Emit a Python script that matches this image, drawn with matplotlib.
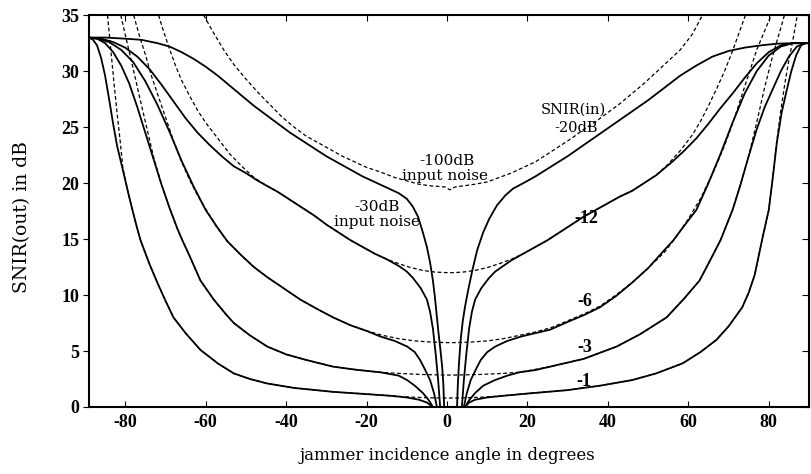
import numpy as np
import matplotlib
matplotlib.use("Agg")
import matplotlib.pyplot as plt

# values
# dashed: -100dB input noise, SNIR(in) = -20, -12, -6, -3, -1 dB
d20_x = [-60.5, -58, -55.5, -53, -50, -47, -44, -41, -38, -35, -32, -29, -26, -23, -20, -16.6, -13, -10, -7, -4, -2, -0.5, 0.7,
         2, 4, 7, 10, 13, 16, 19, 22, 25, 28, 31, 34, 37, 40, 43, 46, 49, 52, 55, 58, 61, 63.5]
d20_y = [35, 33.4, 31.9, 30.6, 29.3, 28.1, 27.0, 25.9, 25.0, 24.2, 23.6, 23.0, 22.4, 21.9, 21.4, 21.0, 20.5, 20.2, 19.9, 19.75, 19.7, 19.65, 19.4,
         19.65, 19.75, 19.9, 20.1, 20.5, 20.9, 21.4, 21.9, 22.6, 23.3, 24.0, 24.8, 25.5, 26.3, 27.1, 28.0, 28.9, 29.9, 30.9, 31.9, 33.3, 35]

d12_x = [-71.7, -70.5, -69, -67.5, -66, -64, -62, -60, -57, -54, -51, -48, -45, -42, -39, -36, -33, -30, -27, -24, -21, -18, -15, -12, -9, -6, -3, 0,
         1.5, 4, 7, 10, 13, 16, 19, 22, 25, 28, 31, 34, 37, 40, 43, 46, 49, 52, 55, 58, 61, 63, 65, 67, 69, 71, 72.5, 74.2]
d12_y = [35, 33.6, 32.0, 30.5, 29.2, 27.8, 26.5, 25.4, 24.0, 22.6, 21.5, 20.5, 19.8, 19.2, 18.5, 17.8, 17.1, 16.3, 15.6, 14.9, 14.3, 13.7, 13.2, 12.8, 12.45, 12.2, 12.05, 12.0,
         12.0, 12.05, 12.2, 12.45, 12.8, 13.2, 13.7, 14.3, 14.9, 15.6, 16.3, 17.0, 17.6, 18.2, 18.8, 19.3, 20.0, 20.7, 21.7, 22.9, 24.3, 25.5, 26.9, 28.4, 30.0, 31.8, 33.3, 35]

d6_x = [-77.9, -76.5, -75, -73.5, -72, -70, -68, -66, -64, -62, -60, -57.5, -54.6, -51, -48, -44.7, -41, -36.5, -32, -28.3, -24, -20, -16, -12, -8, -4, 0,
        2, 6, 10, 14, 18, 22, 26, 30, 34, 38, 42, 46, 50, 54, 57, 60, 63, 66, 68.5, 71, 74, 77, 80.6]
d6_y = [35, 33.2, 31.5, 29.6, 28.0, 25.9, 23.8, 21.9, 20.3, 18.9, 17.7, 16.2, 14.8, 13.5, 12.5, 11.6, 10.7, 9.6, 8.7, 8.0, 7.3, 6.8, 6.4, 6.1, 5.9, 5.8, 5.75,
        5.75, 5.8, 5.9, 6.1, 6.4, 6.7, 7.1, 7.7, 8.3, 9.0, 10.0, 11.1, 12.4, 13.8, 15.2, 16.8, 18.6, 20.8, 22.9, 25.3, 28.6, 31.9, 35]

d3_x = [-81.1, -79.5, -78, -76.5, -75, -73, -71, -69, -67, -65.8, -64, -61.3, -58, -55, -53, -49, -44.7, -40, -35, -28.3, -22, -16.6, -12, -6, 0,
        2, 8, 14, 18, 25.6, 34, 42.2, 48, 54.6, 59, 62.8, 66, 68, 71, 73, 75, 77, 79, 81, 83.9]
d3_y = [35, 32.5, 30.2, 27.8, 25.5, 22.4, 19.9, 17.8, 15.9, 14.9, 13.5, 11.3, 9.6, 8.3, 7.5, 6.4, 5.4, 4.7, 4.2, 3.6, 3.3, 3.1, 3.0, 2.9, 2.85,
        2.85, 2.9, 3.0, 3.1, 3.6, 4.3, 5.4, 6.5, 8.0, 9.7, 11.3, 13.5, 14.9, 17.6, 19.9, 22.4, 25.4, 28.6, 31.4, 35]

d1_x = [-84.4, -83.6, -82.8, -82, -81.2, -80.6, -79.3, -78.2, -77.2, -76.2, -74, -72, -70, -68, -65, -61.3, -57, -53, -49, -44.7, -38, -28.3, -20, -14, -10, -5, 0,
        3, 7, 10, 14, 20, 29.8, 38, 46, 52, 58.6, 63, 67, 70, 72, 73.4, 75, 76.5, 77.5, 78.5, 80, 81, 82, 83, 84, 85, 86, 87.1]
d1_y = [35, 32.0, 29.0, 26.2, 23.6, 21.4, 19.2, 17.6, 16.2, 14.9, 12.8, 11.1, 9.5, 8.0, 6.6, 5.1, 3.9, 3.0, 2.5, 2.1, 1.7, 1.35, 1.15, 1.0, 0.9, 0.82, 0.8,
        0.8, 0.85, 0.9, 1.0, 1.2, 1.5, 1.9, 2.4, 3.0, 3.9, 4.9, 6.0, 7.2, 8.2, 8.9, 10.2, 11.8, 13.5, 15.2, 17.6, 20.5, 23.8, 26.5, 28.9, 31.0, 32.8, 35]

# solid: -30dB input noise
s20_x = [-89, -85, -80, -76, -72, -69, -66, -63, -60, -57, -54, -51, -48, -45, -42, -39, -36, -33, -30, -27, -24, -21, -18, -15, -12, -10,
         -8.5, -7.2, -6, -5, -4.2, -3.5, -3, -2.5, -2.1, -1.6, -1.2, -0.9, -0.7,
         2.5, 2.7, 3.0, 3.4, 3.9, 4.5, 5.3, 6.3, 7.5, 9, 10.5, 12.4, 14.5, 16.4, 19, 22, 26, 30, 34, 38, 42, 46, 50, 54, 58, 62, 66, 70, 74, 78, 82, 86, 90]
s20_y = [33, 33, 32.9, 32.8, 32.5, 32.2, 31.7, 31.1, 30.4, 29.6, 28.7, 27.8, 26.9, 26.1, 25.3, 24.5, 23.8, 23.1, 22.4, 21.8, 21.2, 20.6, 20.1, 19.6, 19.1, 18.6,
         17.9, 17.0, 15.6, 14.3, 12.9, 11.3, 9.8, 8.0, 6.6, 5.0, 3.6, 2.0, 0,
         0, 2.0, 4.0, 6.0, 7.6, 9.0, 10.5, 12.2, 14.0, 15.6, 16.8, 18.0, 18.9, 19.5, 20.0, 20.6, 21.5, 22.4, 23.4, 24.4, 25.4, 26.4, 27.4, 28.5, 29.6, 30.5, 31.3, 31.8, 32.1, 32.3, 32.45, 32.5, 32.5]

s12_x = [-89, -86, -83, -80, -77, -74, -71, -68, -65, -62, -59, -56, -53, -50, -47, -45, -42, -39, -36, -33, -30, -27, -24, -21, -18, -15, -12, -10,
         -8.4, -6.5, -5, -4.2, -3.5, -2.8, -2.2, -1.7,
         3.7, 4.2, 4.8, 5.5, 6.2, 7, 8.5, 10.4, 12, 14, 16, 19, 22, 25, 28, 31, 34, 37, 40, 43, 46, 49, 52, 56, 59, 62, 65, 68, 71, 74, 77, 80, 83, 86, 90]
s12_y = [33, 32.9, 32.6, 32.1, 31.3, 30.2, 28.8, 27.3, 25.8, 24.5, 23.4, 22.4, 21.5, 20.9, 20.2, 19.8, 19.2, 18.5, 17.8, 17.1, 16.3, 15.6, 14.9, 14.3, 13.7, 13.2, 12.6, 12.1,
         11.5, 10.6, 9.6, 8.5, 7.0, 4.7, 2.4, 0,
         0, 2.4, 4.7, 7.0, 8.5, 9.6, 10.6, 11.5, 12.1, 12.6, 13.1, 13.7, 14.3, 14.9, 15.6, 16.3, 17.0, 17.6, 18.2, 18.8, 19.3, 20.0, 20.7, 21.9, 22.9, 24.0, 25.3, 26.7, 28.0, 29.4, 30.7, 31.7, 32.3, 32.5, 32.5]

s6_x = [-89, -87, -84, -81, -78, -75, -72, -69, -66, -63, -60, -57, -54.6, -51, -48, -44.7, -41, -36.5, -32, -28.3, -24, -20, -16.6, -13, -9.9,
        -8, -6.7, -5.4, -4.2, -3.2, -2.5,
        4.2, 4.9, 5.9, 7.1, 8.4, 10, 12, 15, 18.5, 22, 25.6, 30, 34, 38, 42, 46, 50, 54, 56.3, 59, 62, 65, 68, 71, 74, 77, 80, 83, 86, 90]
s6_y = [33, 32.9, 32.6, 31.9, 30.8, 29.1, 27.0, 24.6, 22.0, 19.7, 17.6, 16.0, 14.8, 13.5, 12.5, 11.6, 10.7, 9.6, 8.7, 8.0, 7.3, 6.8, 6.3, 5.9, 5.4,
        4.9, 4.2, 3.3, 2.4, 1.2, 0,
        0, 1.2, 2.4, 3.3, 4.2, 4.9, 5.4, 5.9, 6.3, 6.6, 6.9, 7.6, 8.2, 8.9, 9.9, 11.1, 12.4, 14.0, 14.9, 16.2, 17.6, 20.0, 22.6, 25.4, 28.0, 30.0, 31.4, 32.2, 32.5, 32.5]

s3_x = [-89, -87, -85, -83, -81, -79, -77, -75, -73, -71, -69, -67, -65.8, -64, -61.3, -58, -55, -53, -49, -44.7, -40, -35, -28.3, -22, -16.6,
        -12, -9.9, -8, -6, -4.5, -3.5,
        4.5, 5.5, 7, 9, 11.9, 15, 18, 22, 25.6, 34, 42.2, 48, 54.6, 59, 62.8, 66, 68, 71, 73, 75, 77, 79, 81, 83, 85, 87, 89, 90]
s3_y = [33, 32.9, 32.5, 31.7, 30.5, 28.9, 26.8, 24.5, 22.2, 19.9, 17.8, 15.9, 14.9, 13.5, 11.3, 9.6, 8.3, 7.5, 6.4, 5.4, 4.7, 4.2, 3.6, 3.3, 3.1,
        2.8, 2.4, 1.9, 1.25, 0.6, 0,
        0, 0.6, 1.25, 1.9, 2.4, 2.8, 3.1, 3.3, 3.6, 4.3, 5.4, 6.5, 8.0, 9.7, 11.3, 13.5, 14.9, 17.6, 19.9, 22.4, 24.8, 26.8, 28.4, 30.0, 31.3, 32.2, 32.5, 32.5]

s1_x = [-89, -88, -87, -86, -85, -84, -83, -82, -80.6, -79.3, -78.2, -77.2, -76.2, -74, -72, -70, -68, -65, -61.3, -57, -53, -49, -44.7, -38, -28.3, -20, -14,
        -10, -7, -5, -3.5,
        4.5, 5.5, 7, 10, 14, 20, 29.8, 38, 46, 52, 58.6, 63, 67, 70, 72, 73.4, 75, 76.5, 77.5, 78.5, 80, 81, 82, 83.2, 84.4, 85.6, 86.8, 88, 89.2, 90]
s1_y = [33, 32.8, 32.3, 31.2, 29.6, 27.5, 25.3, 23.3, 21.2, 19.2, 17.6, 16.2, 14.9, 12.8, 11.1, 9.5, 8.0, 6.6, 5.1, 3.9, 3.0, 2.5, 2.1, 1.7, 1.35, 1.15, 1.0,
        0.85, 0.65, 0.4, 0,
        0, 0.4, 0.65, 0.85, 1.0, 1.2, 1.5, 1.9, 2.4, 3.0, 3.9, 4.9, 6.0, 7.2, 8.2, 8.9, 10.2, 11.8, 13.5, 15.2, 17.6, 20.5, 23.6, 26.3, 28.2, 30.0, 31.4, 32.3, 32.5, 32.5]

x_ticks = [-80, -60, -40, -20, 0, 20, 40, 60, 80]
y_ticks = [0, 5, 10, 15, 20, 25, 30, 35]

plt.rcParams['font.family'] = ['DejaVu Serif']

fig = plt.figure(figsize=(8.12, 4.74), dpi=100)
ax = fig.add_axes([0.1096, 0.1414, 0.8867, 0.8266])

for xs, ys in [(d20_x, d20_y), (d12_x, d12_y), (d6_x, d6_y), (d3_x, d3_y), (d1_x, d1_y)]:
    ax.plot(xs, ys, color='black', lw=0.9, ls=(0, (3, 2)))
for xs, ys in [(s20_x, s20_y), (s12_x, s12_y), (s6_x, s6_y), (s3_x, s3_y), (s1_x, s1_y)]:
    ax.plot(xs, ys, color='black', lw=1.3)

ax.set_xlim(-89, 90)
ax.set_ylim(0, 35)
ax.set_xticks(x_ticks)
ax.set_yticks(y_ticks)
tick_font = dict(family='Liberation Serif', size=13, weight='bold')
ax.set_xticklabels([str(t) for t in x_ticks], fontdict=tick_font)
ax.set_yticklabels([str(t) for t in y_ticks], fontdict=tick_font)
ax.tick_params(axis='x', direction='in', top=True, length=4, pad=5)
ax.tick_params(axis='y', direction='out', length=4, pad=3)
sec = ax.secondary_yaxis('right')
sec.set_yticks(y_ticks)
sec.tick_params(direction='in', length=5, labelright=False)
for s in ax.spines.values():
    s.set_linewidth(1.5)

fig.text(448 / 812, 1 - 455 / 474, 'jammer incidence angle in degrees', ha='center', va='center', fontsize=12)
fig.text(22 / 812, 1 - 217 / 474, 'SNIR(out) in dB', ha='center', va='center', rotation=90, fontsize=13.5)

ax.text(0, 22.0, '-100dB', ha='center', va='center', fontsize=11)
ax.text(-0.5, 20.6, 'input noise', ha='center', va='center', fontsize=11)
ax.text(-17.4, 17.85, '-30dB', ha='center', va='center', fontsize=11)
ax.text(-17.4, 16.5, 'input noise', ha='center', va='center', fontsize=11)
ax.text(31.5, 26.55, 'SNIR(in)', ha='center', va='center', fontsize=10.5)
ax.text(32, 24.95, '-20dB', ha='center', va='center', fontsize=10.5)
lab_font = dict(family='Liberation Serif', size=13, weight='bold')
ax.text(34.7, 16.8, '-12', ha='center', va='center', fontdict=lab_font)
ax.text(34.2, 9.4, '-6', ha='center', va='center', fontdict=lab_font)
ax.text(34.2, 5.3, '-3', ha='center', va='center', fontdict=lab_font)
ax.text(34.0, 2.25, '-1', ha='center', va='center', fontdict=lab_font)

fig.savefig('out.png', dpi=100)
